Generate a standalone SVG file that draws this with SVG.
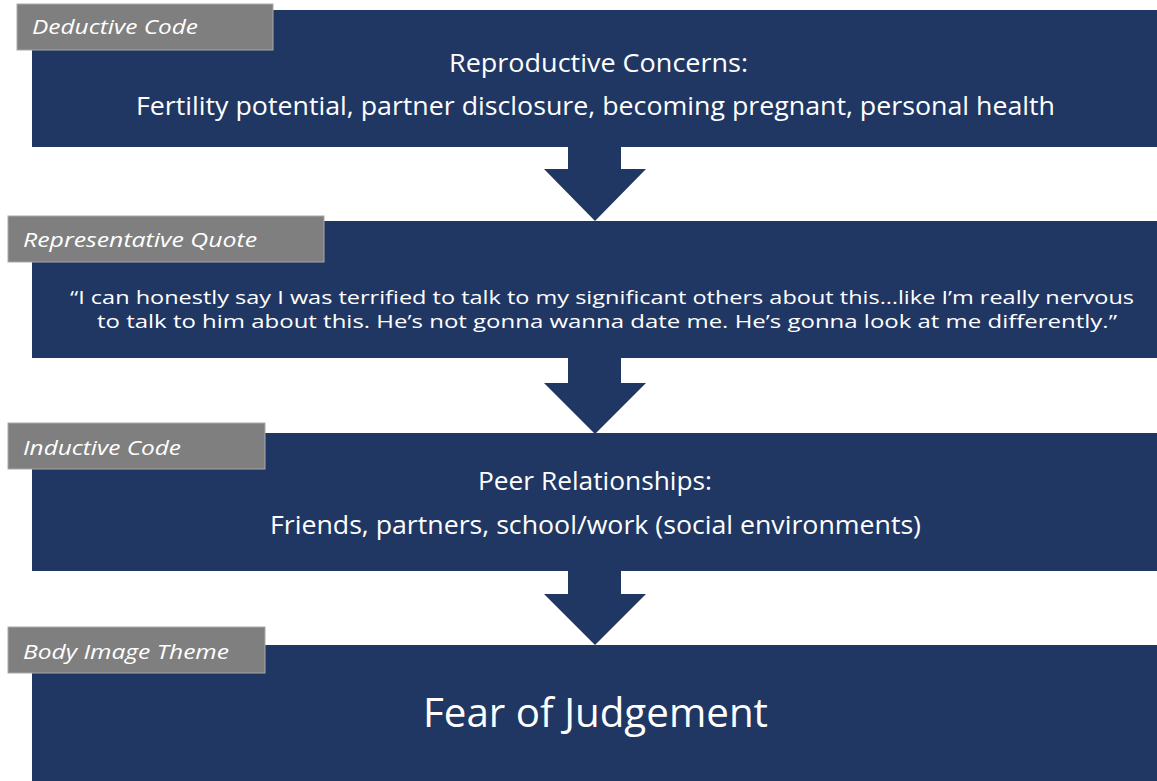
<svg xmlns="http://www.w3.org/2000/svg" width="1157" height="781" viewBox="0 0 1157 781">
  <style>
    .box { fill: #203764; }
    .tab { fill: #7f7f7f; stroke: #a9a9a9; stroke-width: 1; }
    .arrow { fill: #203764; }
    .tabtxt { fill: #ffffff; font-family: "Open Sans", "Liberation Sans", sans-serif; font-style: italic; font-size: 20px; }
    .txt { fill: #ffffff; font-family: "Open Sans", "Liberation Sans", sans-serif; }
    .head { font-size: 25px; }
    .body { font-size: 25px; }
    .quote { font-size: 19px; }
    .theme { font-size: 40px; }
  </style>

  <rect width="1157" height="781" fill="#ffffff"/>

  <!-- connectors: block arrows between stages -->
  <g id="connectors">
    <polygon class="arrow" points="568,146 621,146 621,169 646,169 595,221 544,169 568,169"/>
    <polygon class="arrow" points="568,357 621,357 621,383 646,383 595,434 544,383 568,383"/>
    <polygon class="arrow" points="568,570 621,570 621,594 646,594 595,645 544,594 568,594"/>
  </g>

  <g id="deductive-code">
    <rect class="box" x="32" y="10" width="1125" height="137"/>
    <rect class="tab" x="17" y="4" width="256" height="46"/>
    <text class="tabtxt" x="32" y="34" textLength="166" lengthAdjust="spacingAndGlyphs">Deductive Code</text>
    <text class="txt head" x="449" y="72" textLength="299" lengthAdjust="spacingAndGlyphs">Reproductive Concerns:</text>
    <text class="txt body" x="136" y="115" textLength="919" lengthAdjust="spacingAndGlyphs">Fertility potential, partner disclosure, becoming pregnant, personal health</text>
  </g>

  <g id="representative-quote">
    <rect class="box" x="32" y="221" width="1125" height="137"/>
    <rect class="tab" x="8" y="216" width="316" height="46"/>
    <text class="tabtxt" x="23" y="247" textLength="234" lengthAdjust="spacingAndGlyphs">Representative Quote</text>
    <text class="txt quote" x="70" y="304" textLength="1064" lengthAdjust="spacingAndGlyphs">“I can honestly say I was terrified to talk to my significant others about this…like I’m really nervous</text>
    <text class="txt quote" x="97" y="328" textLength="1020" lengthAdjust="spacingAndGlyphs">to talk to him about this. He’s not gonna wanna date me. He’s gonna look at me differently.”</text>
  </g>

  <g id="inductive-code">
    <rect class="box" x="32" y="433" width="1125" height="138"/>
    <rect class="tab" x="8" y="423" width="257" height="46"/>
    <text class="tabtxt" x="23" y="455" textLength="158" lengthAdjust="spacingAndGlyphs">Inductive Code</text>
    <text class="txt head" x="478" y="490" textLength="234" lengthAdjust="spacingAndGlyphs">Peer Relationships:</text>
    <text class="txt body" x="270" y="534" textLength="651" lengthAdjust="spacingAndGlyphs">Friends, partners, school/work (social environments)</text>
  </g>

  <g id="body-image-theme">
    <rect class="box" x="32" y="645" width="1125" height="136"/>
    <rect class="tab" x="8" y="627" width="257" height="46"/>
    <text class="tabtxt" x="23" y="659" textLength="206" lengthAdjust="spacingAndGlyphs">Body Image Theme</text>
    <text class="txt theme" x="423" y="727" textLength="345" lengthAdjust="spacingAndGlyphs">Fear of Judgement</text>
  </g>
</svg>
